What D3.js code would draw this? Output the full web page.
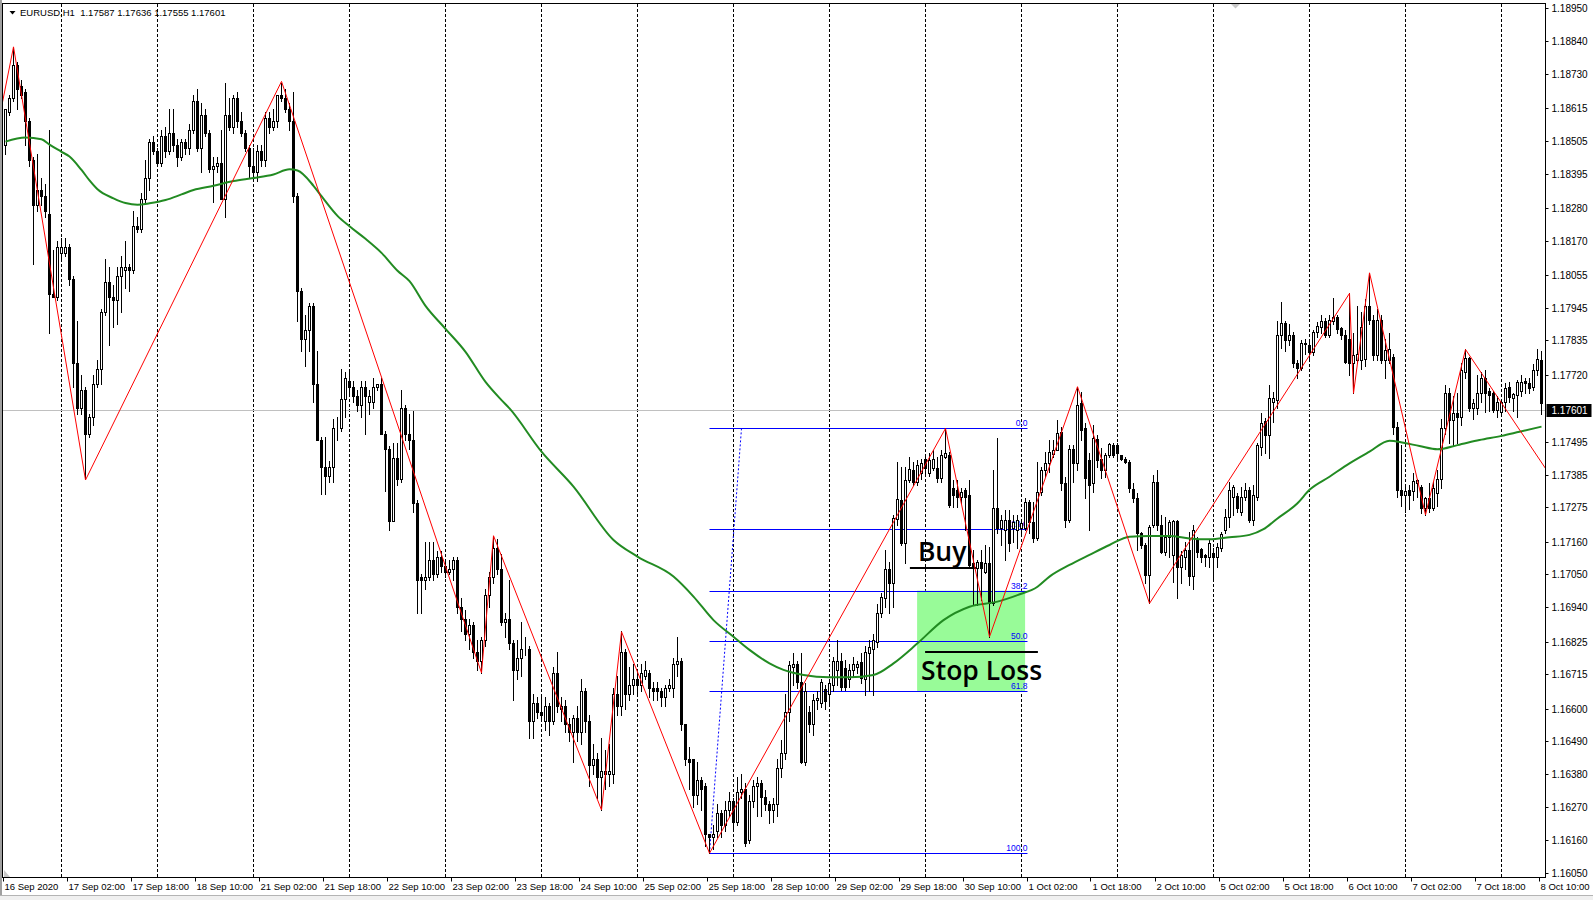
<!DOCTYPE html>
<html>
<head>
<meta charset="utf-8">
<script src="https://cdn.jsdelivr.net/npm/d3@7"></script>
<style>
    body { margin: 0; background: #fff; }
    text { font-family: 'Liberation Sans', Arial, sans-serif; }
</style>
</head>
<body>
<div id="chart"></div>
<script>
// EURUSD H1, every bar is [open, high, low, close] in pips above 1.10000
const sep16 = [[849,861,846,861],[860,866,859,865],[865,882,864,876],[876,877,861,868],[869,871,865,866],[867,868,849,857],[857,858,842,844],[844,845,809,829],[829,846,827,834],[834,838,829,832],[832,836,825,827],[826,854,786,799],[799,814,798,798],[798,817,797,815]];
const sep17 = [[813,818,811,815],[813,818,812,815],[815,816,802,804],[804,805,768,776],[776,790,759,761],[761,772,759,767],[767,768,737,752],[752,759,751,758],[758,772,755,769],[769,777,768,774],[774,794,769,793],[793,811,792,803],[803,808,782,798],[798,802,788,797],[797,808,789,805],[805,812,793,808],[807,817,801,808],[808,809,800,807],[807,827,806,822],[822,825,820,821],[821,833,820,831],[831,844,830,838],[838,851,834,850],[850,852,846,847]];
const sep18 = [[847,848,842,843],[843,854,842,852],[852,855,845,847],[847,861,846,853],[853,861,847,849],[849,851,842,845],[845,851,844,850],[850,851,846,848],[848,856,846,854],[854,866,853,864],[864,868,847,848],[848,863,840,859],[859,861,852,853],[853,854,840,841],[841,845,830,842],[842,845,840,843],[843,854,831,831],[831,870,825,859],[859,865,854,855],[855,866,853,865],[865,867,855,857],[857,860,852,853],[853,854,847,848],[848,849,838,842]];
const sep21 = [[842,848,839,840],[840,849,837,847],[847,849,842,844],[844,860,842,858],[858,860,853,855],[855,861,854,857],[857,866,855,866],[866,870,864,865],[865,868,860,861],[861,863,854,857],[857,867,830,832],[832,833,790,800],[800,801,780,784],[784,792,775,787],[787,796,780,795],[795,796,763,769],[769,780,750,750],[750,751,732,741],[741,751,732,738],[738,743,736,741],[741,757,736,754],[754,758,750,754],[754,774,753,764],[764,773,758,771]];
const sep22 = [[770,773,766,768],[768,770,763,765],[765,767,760,762],[762,770,758,768],[768,770,752,765],[763,767,759,765],[763,771,761,768],[768,769,767,769],[769,771,752,752],[752,753,733,747],[747,748,720,723],[723,749,723,744],[744,749,735,737],[737,767,736,761],[761,762,750,752],[752,759,747,750],[750,760,726,729],[729,730,692,703],[704,705,692,703],[703,716,700,704],[704,716,703,710],[710,716,703,705],[705,713,704,711],[711,713,706,708]];
const sep23 = [[708,710,704,706],[706,710,705,707],[707,711,703,710],[710,711,692,694],[694,697,686,690],[690,693,683,685],[685,690,680,688],[688,689,677,679],[679,683,673,676],[676,684,672,683],[683,700,681,698],[698,706,694,704],[704,718,702,714],[714,717,705,707],[707,712,688,689],[689,692,684,690],[690,703,680,682],[682,683,663,673],[673,683,670,677],[677,689,671,680],[680,684,678,680],[680,681,650,656],[656,665,650,662],[662,664,657,659]];
const sep24 = [[659,665,656,658],[656,664,653,661],[661,662,651,656],[656,674,655,672],[672,679,659,661],[660,664,656,661],[661,663,652,655],[655,657,649,652],[652,658,642,657],[657,661,649,652],[652,670,648,666],[666,667,652,656],[656,658,634,641],[641,648,638,643],[643,645,630,637],[637,650,626,639],[638,646,633,639],[638,648,634,639],[638,667,635,665],[665,671,658,661],[661,686,658,679],[679,680,660,665],[665,674,663,668],[668,675,665,670]];
const sep25 = [[670,673,665,668],[668,675,666,672],[671,676,670,673],[672,673,664,667],[667,669,663,666],[667,669,663,666],[666,667,661,664],[664,668,661,667],[667,670,666,668],[667,677,664,675],[675,684,671,676],[676,677,653,655],[655,655,641,643],[643,647,633,642],[643,643,627,631],[631,642,628,636],[636,637,626,633],[634,635,614,618],[618,618,611.5,617],[617,621,613,618],[619,628,617,625],[625,626,617,621],[621,629,619,626],[626,632,624,629]];
const sep28 = [[629,630,620,622],[622,637,621,632],[632,638,630,633],[633,635,614,615],[616,631,615,629],[629,636,627,634],[634,637,624,635],[635,636,624,630.5],[630.5,632.7,626,628],[628,629,621.5,626],[626,630,622,628],[628,643,624,640],[640,649.5,637,645],[645,665,643,659],[659,676,656,674.6],[674,678.6,668,675],[675,676,667,669],[669,678.6,641.7,642],[642,668.5,641,666],[659,661,652,655],[655,665,651,663],[663,666,660,663.5],[662,670,660.7,669],[666.5,668,660,662.4]];
const sep29 = [[665,669.6,661.8,668.5],[668,677.4,666,676],[673,683,668,676],[676,678.6,666.3,667.4],[673.5,676.3,666.3,667.4],[670,675,667.4,673],[673,677.4,671,675],[674,676,672,675],[675.8,678.6,668.5,670.2],[670,681,664.6,679],[678.6,683,666,680.8],[680,685,664.6,683],[682.5,695,680.8,692],[692,698.7,690.9,697.6],[697,713.2,694.2,706.7],[707,709.3,692,702.3],[702.3,725,694.2,723.8],[723.5,742.8,721.6,730.2],[730,741.2,714.9,715.5],[715.5,741.2,708.8,736.7],[736.7,744.5,736.1,740.3],[740,742.8,735,736],[736,743.4,735,741.7],[739,743.9,737,742.3]];
const sep30 = [[743.9,745,739,740.6],[739,745.7,738,743.4],[740.6,746.8,740,743.9],[740.6,744.5,736.1,737.3],[737.3,746.8,736.1,745.1],[744.5,754,744,745.7],[745,746,727.8,728.3],[733.9,736.7,727.8,731.7],[733.3,736.7,727.8,731.1],[731.1,734,729,732.8],[733.3,734,719.9,731.1],[731.7,736.7,707.6,708.2],[708.8,713.2,694.8,707.1],[707.1,709.9,694.8,709.3],[709.3,713.2,696.4,707.1],[705.9,714.9,705.4,708.8],[708.8,714.3,684.1,695.3],[695.3,740,694.8,727.2],[727.2,750.7,719,720.5],[720.5,725,715,723.3],[720,726.6,710,723.3],[723.3,726.6,713,715.5],[720.5,725,716,722.7],[720,725,714,723.3]];
const oct01 = [[720.5,723.5,719,722.2],[720.5,730.5,719.9,729.4],[729.4,730,719,722.7],[722.7,729.4,716,717.1],[717.1,742.8,716.6,732.8],[732.8,741.2,731.7,740],[740,746.2,737.8,742.5],[742.3,750.1,739.5,746.2],[745.5,750.1,744.5,746.8],[746.8,756.8,746.8,752.4],[752.9,754.6,733.3,735.6],[735.6,737.8,721,723.3],[723.3,748.4,722.7,747],[747,748.4,736,742.3],[742.3,768,740,761.9],[762.4,766.3,750.1,753.5],[754,755.7,730.6,737.3],[743.4,745.6,719.9,735],[735.6,755.2,732.8,750.7],[750.3,751.8,741,743.4],[743.6,747.3,737.3,740],[740,745.6,737.8,745],[745,749.2,744.5,748.8],[748.4,749,744.5,745]];
const oct02 = [[748.4,749,743.4,745.6],[745,745,743.4,743.6],[743.6,744.5,742.3,742.8],[742.8,743.4,732.8,733.9],[733.7,735.6,729.4,730.6],[730.6,732.2,713.2,718.8],[718.8,719.4,713.8,714.9],[714.9,715.5,702,704.8],[704.8,721.6,695.3,721],[721.6,738.4,721,736.1],[736.1,740,719.9,721.6],[721.6,725,712.1,712.7],[712.7,724.4,711.5,717.7],[717.7,723.3,711,722.7],[711.5,723.3,702.6,722.9],[722.9,723.3,697,707.6],[707.6,713,702,711.5],[711,716,707,713.2],[713.2,719.4,701.5,704.5],[704.5,721.6,700,719.9],[716.8,717.7,711,712.7],[713.4,713.8,709.3,711],[711.5,712,708,711],[711,716.6,707.6,715.4]];
const oct05 = [[712.1,714,703,711],[711,715.5,707.6,714.3],[713.8,719.4,713,718.6],[719.9,727,718.8,724.2],[724.2,736.1,721,733.3],[731.1,735,725,734.2],[731.3,732.2,726,727.2],[726.1,734.4,725,731.1],[731.1,735.6,730,733.3],[733.5,734.4,722.7,723.3],[723.3,735,721.6,731.7],[731.1,749,730,748.4],[747.9,759.1,745.1,755.9],[756.6,757.6,745.6,751.8],[751.8,768.5,744,764.1],[763,766.3,756,764.1],[763.5,790,761,785.3],[785.3,796.5,781,789.2],[789.2,790,780,783.7],[783.7,789,782,785.3],[785.3,786.4,774.7,775.8],[775.8,777,770.8,774.2],[774.2,783.7,773.6,782.8],[782.8,784,779,782.2]];
const oct06 = [[782,783.7,777,779.7],[779.7,787,778.6,786.4],[786.4,789.8,784.8,788.3],[788.1,792,786,790.1],[790.1,790.9,784.8,785.3],[785.3,792,784.8,790.4],[790.1,797.6,789,791.3],[791.3,792,786,787.2],[787.6,788,784,785.3],[785.3,787,776,776.4],[784,799.3,772,775.8],[775.8,786,765.8,778.6],[777,795,776,779],[777,793,774,788],[777.2,797.5,775,795.1],[795.1,806.2,789,790.4],[790.4,792,777,778.6],[778.6,794,777,790.4],[790.4,792,776,777],[777,784,770.8,780.3],[777,786,776,780.5],[778,779,752,754.6],[754.6,756,731,733.4],[733.5,748.4,728,731.5]];
const oct07 = [[731.7,735,726,733.1],[733.4,735,727,731.7],[733.1,739,730,736.4],[735.6,737,731,736.7],[734.3,735,725.5,727.2],[727.2,731.1,725,730.6],[730.6,735.6,726,727.2],[727.2,736,726.5,733.9],[732.2,740,728,737],[737,757,733.9,754],[754,768.5,752,765.8],[765.8,767.5,749,756.8],[756.8,765,748,759.1],[759.1,765.8,749,757.9],[757.9,776,755,773.6],[773,780.5,771,777.5],[777.5,778,760,760.7],[760.7,764,757,762.4],[760.7,772,759,765.8],[765.8,773,763,770.8],[770.8,773.6,759.6,765.8],[766.4,767.5,760,765.2],[765.8,766.4,759.6,760.2],[760.2,765,758,763]];
const oct08 = [[759.6,764,758.5,763],[763,769.1,760,767.5],[768,769.7,763,764.7],[764.1,766,760,765.4],[765.2,770.3,758,769.7],[766.4,772,765,769.7],[769.9,771,766,769.1],[769.1,771,766,767.5],[768,775.5,767,773.6],[773.6,780.5,772,777.2],[777,780,759,762.5]];

// [day label, first hour shown, bars]
const days = [
    ['16 Sep', 10, sep16], ['17 Sep', 0, sep17], ['18 Sep', 0, sep18], ['21 Sep', 0, sep21],
    ['22 Sep', 0, sep22], ['23 Sep', 0, sep23], ['24 Sep', 0, sep24], ['25 Sep', 0, sep25],
    ['28 Sep', 0, sep28], ['29 Sep', 0, sep29], ['30 Sep', 0, sep30], ['1 Oct', 0, oct01],
    ['2 Oct', 0, oct02], ['5 Oct', 0, oct05], ['6 Oct', 0, oct06], ['7 Oct', 0, oct07], ['8 Oct', 0, oct08]
];

// indicator points as [bar, pips], bar 0 = 17 Sep 00:00
const zigzag = [[-16, 855], [-12, 882], [6, 736.7], [55, 870.4], [105, 672], [108, 718], [135, 626], [140, 685.8],
    [162, 611.5], [221, 754], [232, 684.1], [254, 768], [272, 695.3], [322, 799.3], [323, 765.8], [327, 806.2],
    [341, 725], [351, 780.5], [372, 738.6]];

const movingAverage = [[-14, 850.2], [-9, 851.6], [-5, 851], [-3, 849.2], [0, 846.8], [2, 845.2], [5, 840.7], [7, 837.2],
    [9, 834.2], [13, 831.2], [16, 829.6], [19, 829], [22, 829.5], [26, 830.6], [30, 832.5], [33, 834], [38, 835.4],
    [43, 837], [48, 838], [53, 839.2], [57, 840.9], [59, 840.5], [63, 835.4], [65, 831.9], [69, 825.3], [72, 821.8],
    [76, 817.6], [80, 812.9], [84, 806.9], [87, 803.4], [91, 795.1], [96, 787.4], [101, 779.7], [106, 769.6],
    [110, 763.5], [112, 760.7], [120, 746.2], [128, 734.5], [138, 716.6], [144, 711], [153, 704.3], [158, 697.6],
    [163, 689.7], [168, 684.1], [172, 679.7], [177, 675.2], [180.5, 673], [185.5, 671.3], [192, 670.5], [197, 670.5],
    [203, 671.3], [208, 675.2], [214, 681.9], [220.5, 689.7], [227, 694.2], [234, 695.9], [239, 698.1], [244, 700.9],
    [247, 704.3], [252, 708.2], [257, 711.6], [262, 714.9], [267, 717.7], [272, 717.9], [277, 717.9], [282, 717.1],
    [287, 716.8], [292, 717.5], [297, 718.3], [300.5, 720.2], [304, 723.8], [309, 728.9], [312, 733.4], [317, 737.8],
    [322, 742.3], [327, 746.2], [332, 749.9], [335.5, 749.2], [339.5, 748.1], [344, 747], [349, 748.4], [354.5, 750.1],
    [360, 751.5], [364.5, 752.9], [370, 754.6]];

const priceTicks = [1.18950, 1.18840, 1.18730, 1.18615, 1.18505, 1.18395, 1.18280, 1.18170, 1.18055, 1.17945,
    1.17835, 1.17720, 1.17495, 1.17385, 1.17275, 1.17160, 1.17050, 1.16940, 1.16825, 1.16715, 1.16600,
    1.16490, 1.16380, 1.16270, 1.16160, 1.16050];

const fibLevels = [0, 23.6, 38.2, 50, 61.8, 100];
const fibStart = [162, 611.5];   // 100.0
const fibEnd = [170, 754.0];     // 0.0
const fibRightBar = 241.5;

const header = 'EURUSD,H1  1.17587 1.17636 1.17555 1.17601';
const lastPrice = 1.17601;

// text and line objects, anchored on [bar, pips]
const buyText = {text: 'Buy', at: [214.1, 709.5]};
const buyLine = [[212.1, 707.2], [228.9, 707.2]];
const stopText = {text: 'Stop Loss', at: [214.9, 669.6]};
const stopLine = [[215.9, 679], [244.1, 679]];
const zoneBars = [213.9, 240.9];

const width = 1593;
const height = 900;
const plot = {left: 2.5, top: 3.5, right: 1545.5, bottom: 877.5};

function toPrice(pips) {
    return 1.1 + pips / 10000;
}

let bars = [];
let barNo = -sep16.length;
days.forEach(d => {
    d[2].forEach((b, k) => {
        bars.push({i: barNo++, day: d[0], hour: d[1] + k,
            o: toPrice(b[0]), h: toPrice(b[1]), l: toPrice(b[2]), c: toPrice(b[3])});
    });
});

let x = d3.scaleLinear().domain([0, 370]).range([61.5, 1541.5]);
let y = d3.scaleLinear().domain([1.1605, 1.1895]).range([872.6, 8.1]);

let svg = d3.select('#chart').append('svg')
    .attr('width', width)
    .attr('height', height)
    .style('display', 'block');

svg.append('rect').attr('width', width).attr('height', height).attr('fill', '#fff');

// window edges
svg.append('rect').attr('x', 0).attr('y', 0).attr('width', 2).attr('height', height).attr('fill', '#a0a0a0');
svg.append('rect').attr('x', 0).attr('y', 896).attr('width', width).attr('height', 4).attr('fill', '#f0f0f0');
svg.append('line').attr('x1', 0).attr('x2', width).attr('y1', 895.5).attr('y2', 895.5).attr('stroke', '#b4b4b4');

svg.append('clipPath').attr('id', 'plot-clip')
    .append('rect')
    .attr('x', plot.left).attr('y', plot.top)
    .attr('width', plot.right - plot.left).attr('height', plot.bottom - plot.top);

let chart = svg.append('g').attr('clip-path', 'url(#plot-clip)');

// day separators
chart.selectAll('line.sep')
    .data(bars.filter(b => b.hour === 0))
    .enter().append('line')
    .attr('class', 'sep')
    .attr('x1', d => x(d.i)).attr('x2', d => x(d.i))
    .attr('y1', plot.top).attr('y2', plot.bottom)
    .attr('stroke', '#000')
    .attr('stroke-dasharray', '3,2')
    .attr('shape-rendering', 'crispEdges');

// bid line
chart.append('line')
    .attr('x1', plot.left).attr('x2', plot.right)
    .attr('y1', Math.round(y(lastPrice)) + 0.5).attr('y2', Math.round(y(lastPrice)) + 0.5)
    .attr('stroke', '#c0c0c0');

// fibonacci
let fibLow = toPrice(fibStart[1]);
let fibHigh = toPrice(fibEnd[1]);
let fibs = fibLevels.map(l => ({level: l, price: fibHigh - (fibHigh - fibLow) * l / 100}));

chart.append('rect')
    .attr('x', x(zoneBars[0]))
    .attr('width', x(zoneBars[1]) - x(zoneBars[0]))
    .attr('y', y(fibs[2].price))
    .attr('height', y(fibs[4].price) - y(fibs[2].price))
    .attr('fill', '#98fb98');

chart.selectAll('line.fib')
    .data(fibs)
    .enter().append('line')
    .attr('class', 'fib')
    .attr('x1', x(fibStart[0])).attr('x2', x(fibRightBar))
    .attr('y1', d => Math.round(y(d.price)) + 0.5).attr('y2', d => Math.round(y(d.price)) + 0.5)
    .attr('stroke', '#0000ff');

chart.selectAll('text.fib')
    .data(fibs)
    .enter().append('text')
    .attr('class', 'fib')
    .attr('x', x(fibRightBar))
    .attr('y', d => Math.round(y(d.price)) - 2)
    .attr('text-anchor', 'end')
    .attr('font-size', 8.5)
    .attr('fill', '#0000ff')
    .text(d => d.level.toFixed(1));

chart.append('line')
    .attr('x1', x(fibStart[0])).attr('y1', y(fibLow))
    .attr('x2', x(fibEnd[0])).attr('y2', y(fibHigh))
    .attr('stroke', '#0000ff')
    .attr('stroke-dasharray', '2,2');

// buy / stop loss notes
[buyLine, stopLine].forEach(l => {
    chart.append('line')
        .attr('x1', x(l[0][0])).attr('x2', x(l[1][0]))
        .attr('y1', y(toPrice(l[0][1]))).attr('y2', y(toPrice(l[1][1])))
        .attr('stroke', '#000')
        .attr('stroke-width', 2);
});

[buyText, stopText].forEach(t => {
    chart.append('text')
        .attr('x', x(t.at[0]))
        .attr('y', y(toPrice(t.at[1])))
        .style('font-family', '"Open Sans", sans-serif')
        .attr('font-weight', 600)
        .attr('font-size', 26.5)
        .attr('fill', '#000')
        .text(t.text);
});

// candles
let candle = chart.selectAll('g.candle')
    .data(bars)
    .enter().append('g')
    .attr('class', 'candle')
    .attr('shape-rendering', 'crispEdges');

candle.append('line')
    .attr('x1', d => x(d.i)).attr('x2', d => x(d.i))
    .attr('y1', d => Math.round(y(d.h))).attr('y2', d => Math.round(y(d.l)) + 1)
    .attr('stroke', '#000');

candle.append('rect')
    .attr('x', d => d.c >= d.o ? x(d.i) - 1 : x(d.i) - 1.5)
    .attr('width', d => d.c >= d.o ? 2 : 3)
    .attr('y', d => {
        let top = Math.round(y(Math.max(d.o, d.c)));
        return d.c >= d.o ? top + 0.5 : top;
    })
    .attr('height', d => {
        let top = Math.round(y(Math.max(d.o, d.c)));
        let bottom = Math.round(y(Math.min(d.o, d.c)));
        return d.c >= d.o ? Math.max(0, bottom - top) : Math.max(1, bottom - top + 1);
    })
    .attr('fill', d => d.c >= d.o ? '#fff' : '#000')
    .attr('stroke', d => d.c >= d.o ? '#000' : 'none');

// moving average
chart.append('path')
    .datum(movingAverage)
    .attr('d', d3.line()
        .x(d => x(d[0]))
        .y(d => y(toPrice(d[1])))
        .curve(d3.curveMonotoneX))
    .attr('fill', 'none')
    .attr('stroke', '#228b22')
    .attr('stroke-width', 2);

// zigzag
chart.append('path')
    .datum(zigzag)
    .attr('d', d3.line()
        .x(d => x(d[0]))
        .y(d => y(toPrice(d[1]))))
    .attr('fill', 'none')
    .attr('stroke', '#ff0000')
    .attr('stroke-width', 1);

// frame
svg.append('rect')
    .attr('x', plot.left).attr('y', plot.top)
    .attr('width', plot.right - plot.left).attr('height', plot.bottom - plot.top)
    .attr('fill', 'none')
    .attr('stroke', '#000')
    .attr('shape-rendering', 'crispEdges');

svg.append('polygon')
    .attr('points', '1231,4 1240,4 1235.5,8.5')
    .attr('fill', '#c8c8c8');
svg.append('polygon')
    .attr('points', '4,870 4,877 10,877')
    .attr('fill', '#c8c8c8');

// price axis
let priceAxis = svg.append('g');
priceAxis.selectAll('line')
    .data(priceTicks)
    .enter().append('line')
    .attr('x1', plot.right).attr('x2', plot.right + 3)
    .attr('y1', d => Math.round(y(d)) + 0.5).attr('y2', d => Math.round(y(d)) + 0.5)
    .attr('stroke', '#000');
priceAxis.selectAll('text')
    .data(priceTicks)
    .enter().append('text')
    .attr('x', plot.right + 6)
    .attr('y', d => Math.round(y(d)) + 4)
    .attr('font-size', 10)
    .attr('fill', '#000')
    .text(d => d.toFixed(5));

svg.append('rect')
    .attr('x', plot.right + 1)
    .attr('y', Math.round(y(lastPrice)) - 6)
    .attr('width', 45)
    .attr('height', 13)
    .attr('fill', '#000');
svg.append('text')
    .attr('x', plot.right + 6)
    .attr('y', Math.round(y(lastPrice)) + 4)
    .attr('font-size', 10)
    .attr('fill', '#fff')
    .text(lastPrice.toFixed(5));

// time axis
function timeLabel(b, first) {
    if (first) return b.day + ' 2020';
    return b.day + ' ' + (b.hour < 10 ? '0' : '') + b.hour + ':00';
}

let labelled = [bars[0]].concat(bars.filter(b => b.i > 0 && (b.i - 2) % 16 === 0));
let timeAxis = svg.append('g');
timeAxis.selectAll('line')
    .data(labelled)
    .enter().append('line')
    .attr('x1', d => Math.round(x(d.i)) - 2.5).attr('x2', d => Math.round(x(d.i)) - 2.5)
    .attr('y1', plot.bottom).attr('y2', plot.bottom + 4)
    .attr('stroke', '#000');
timeAxis.selectAll('text')
    .data(labelled)
    .enter().append('text')
    .attr('x', d => x(d.i) - 1)
    .attr('y', 890)
    .attr('font-size', 9.5)
    .attr('fill', '#000')
    .text((d, k) => timeLabel(d, k === 0));

// header
svg.append('polygon')
    .attr('points', '9.5,11 15.5,11 12.5,14.5')
    .attr('fill', '#000');
svg.append('text')
    .attr('x', 20)
    .attr('y', 16)
    .attr('font-size', 9.5)
    .attr('fill', '#000')
    .attr('xml:space', 'preserve')
    .style('white-space', 'pre')
    .text(header);
</script>
</body>
</html>
